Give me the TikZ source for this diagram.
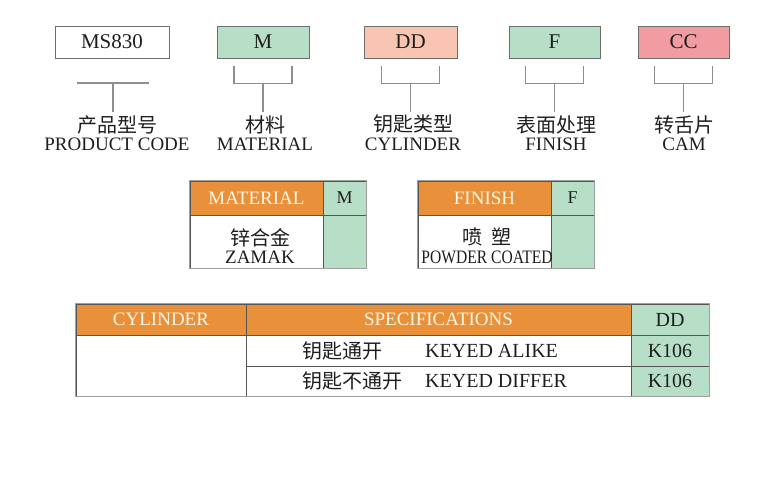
\documentclass[tikz,border=0pt]{standalone}
\usepackage{fontspec}
\setmainfont{Liberation Serif}
\newfontfamily\cjk{Noto Sans CJK SC}

\definecolor{ink}{HTML}{1E1E1E}
\definecolor{boxgray}{HTML}{6E6E6E}
\definecolor{linegray}{HTML}{8E8E8E}
\definecolor{framegray}{HTML}{A0A0A0}
\definecolor{cellgray}{HTML}{555555}
\definecolor{codegreen}{HTML}{B7DFC8}
\definecolor{codesalmon}{HTML}{F7C5B2}
\definecolor{codepink}{HTML}{F09CA0}
\definecolor{hdorange}{HTML}{E8913A}
\definecolor{hdtext}{HTML}{FFF6E6}

\newcommand{\boxfont}{\fontsize{21}{21}\selectfont}
\newcommand{\lblfont}{\fontsize{19}{18.5}\selectfont}
\newcommand{\zhfont}{\fontsize{20}{20}\selectfont\cjk}

\tikzset{
  codebox/.style={draw=boxgray, line width=0.9pt, minimum height=32pt, inner sep=0pt, font=\boxfont, text=ink},
  bracket/.style={draw=linegray, line width=1.2pt},
  codelabel/.style={anchor=north, inner sep=0pt, align=center, font=\lblfont, text=ink},
  hdcell/.style={draw=cellgray, fill=hdorange, inner sep=0pt, font=\lblfont, text=hdtext},
  gncell/.style={draw=cellgray, fill=codegreen, inner sep=0pt, font=\lblfont, text=ink},
  bodycell/.style={draw=cellgray, fill=white, inner sep=0pt},
  celltext/.style={inner sep=0pt, align=center, font=\lblfont, text=ink},
  rowtext/.style={anchor=west, inner sep=0pt, font=\lblfont, text=ink},
  frame/.style={draw=framegray, line width=1pt}
}

\begin{document}
\begin{tikzpicture}[x=1pt,y=-1pt]
  \useasboundingbox (0,0) rectangle (778,500);

  %% Code boxes
  \node[codebox, minimum width=114pt] (code) at (112,42) {MS830};
  \node[codebox, fill=codegreen, minimum width=92pt] (mat) at (263,42) {M};
  \node[codebox, fill=codesalmon, minimum width=93pt] (cyl) at (410.5,42) {DD};
  \node[codebox, fill=codegreen, minimum width=91pt] (fin) at (554.5,42) {F};
  \node[codebox, fill=codepink, minimum width=91pt] (cam) at (683.5,42) {CC};

  %% Labels under the boxes
  \node[codelabel] (code-lbl) at (117,115) {{\zhfont 产品型号}\\PRODUCT CODE};
  \node[codelabel] (mat-lbl) at (265,115) {{\zhfont 材料}\\MATERIAL};
  \node[codelabel] (cyl-lbl) at (413,115) {{\zhfont 钥匙类型}\\CYLINDER};
  \node[codelabel] (fin-lbl) at (556,115) {{\zhfont 表面处理}\\FINISH};
  \node[codelabel] (cam-lbl) at (684,115) {{\zhfont 转舌片}\\CAM};

  %% Brackets
  \coordinate (code-a) at (77,83);
  \coordinate (code-b) at (149,83);
  \coordinate (code-m) at (113,83);
  \draw[bracket] (code-a) -- (code-b);
  \draw[bracket, shorten >=3pt] (code-m) -- (code-m |- code-lbl.north);

  \draw[bracket] ([shift={(-29pt,-8pt)}]mat.south) -- ++(0,17) -- ++(58,0) -- ++(0,-17);
  \draw[bracket, shorten >=3pt] ([yshift=-25pt]mat.south) -- (mat.south |- mat-lbl.north);
  \draw[bracket] ([shift={(-29pt,-8pt)}]cyl.south) -- ++(0,17) -- ++(58,0) -- ++(0,-17);
  \draw[bracket, shorten >=3pt] ([yshift=-25pt]cyl.south) -- (cyl.south |- cyl-lbl.north);
  \draw[bracket] ([shift={(-29pt,-8pt)}]fin.south) -- ++(0,17) -- ++(58,0) -- ++(0,-17);
  \draw[bracket, shorten >=3pt] ([yshift=-25pt]fin.south) -- (fin.south |- fin-lbl.north);
  \draw[bracket] ([shift={(-29pt,-8pt)}]cam.south) -- ++(0,17) -- ++(58,0) -- ++(0,-17);
  \draw[bracket, shorten >=3pt] ([yshift=-25pt]cam.south) -- (cam.south |- cam-lbl.north);

  %% Material table
  \node[hdcell, minimum width=133pt, minimum height=34pt] (matt-hd) at (256.5,198) {MATERIAL};
  \node[gncell, minimum width=43pt, minimum height=34pt, font=\fontsize{18}{18}\selectfont] (matt-code) at (344.5,198) {M};
  \node[bodycell, minimum width=133pt, minimum height=53pt] (matt-body) at (256.5,241.5) {};
  \node[gncell, minimum width=43pt, minimum height=53pt] (matt-val) at (344.5,241.5) {};
  \node[celltext] (matt-txt) at (260,246) {{\zhfont 锌合金}\\ZAMAK};
  \draw[frame] (matt-hd.north west) rectangle (matt-val.south east);

  %% Finish table
  \node[hdcell, minimum width=133pt, minimum height=34pt] (fint-hd) at (484.5,198) {FINISH};
  \node[gncell, minimum width=43pt, minimum height=34pt, font=\fontsize{18}{18}\selectfont] (fint-code) at (572.5,198) {F};
  \node[bodycell, minimum width=133pt, minimum height=53pt] (fint-body) at (484.5,241.5) {};
  \node[gncell, minimum width=43pt, minimum height=53pt] (fint-val) at (572.5,241.5) {};
  \node[celltext] (fint-txt) at (487,246) {{\zhfont 喷\hspace{0.45em}塑}\\\scalebox{0.82}[1]{POWDER COATED}};
  \draw[frame] (fint-hd.north west) rectangle (fint-val.south east);

  %% Cylinder table
  \node[hdcell, minimum width=170pt, minimum height=31pt] (cylt-hd) at (161,319.5) {CYLINDER};
  \node[hdcell, minimum width=385pt, minimum height=31pt] (spec-hd) at (438.5,319.5) {SPECIFICATIONS};
  \node[gncell, minimum width=78pt, minimum height=31pt, font=\fontsize{20}{20}\selectfont] (dd-hd) at (670,319.5) {DD};
  \node[bodycell, minimum width=170pt, minimum height=61pt] (cylt-body) at (161,365.5) {};
  \node[bodycell, minimum width=385pt, minimum height=31pt] (spec-a) at (438.5,350.5) {};
  \node[bodycell, minimum width=385pt, minimum height=30pt] (spec-b) at (438.5,381) {};
  \node[gncell, minimum width=78pt, minimum height=31pt, font=\fontsize{20}{20}\selectfont] (dd-a) at (670,350.5) {K106};
  \node[gncell, minimum width=78pt, minimum height=30pt, font=\fontsize{20}{20}\selectfont] (dd-b) at (670,381) {K106};
  \draw[frame] (cylt-hd.north west) rectangle (dd-b.south east);

  \node[rowtext, font=\zhfont] (alike-zh) at (302,350.5) {钥匙通开};
  \node[rowtext, font=\fontsize{20}{20}\selectfont] (alike-en) at (425,350.5) {KEYED ALIKE};
  \node[rowtext, font=\zhfont] (differ-zh) at (302,381) {钥匙不通开};
  \node[rowtext, font=\fontsize{20}{20}\selectfont] (differ-en) at (425,381) {KEYED DIFFER};
\end{tikzpicture}
\end{document}
